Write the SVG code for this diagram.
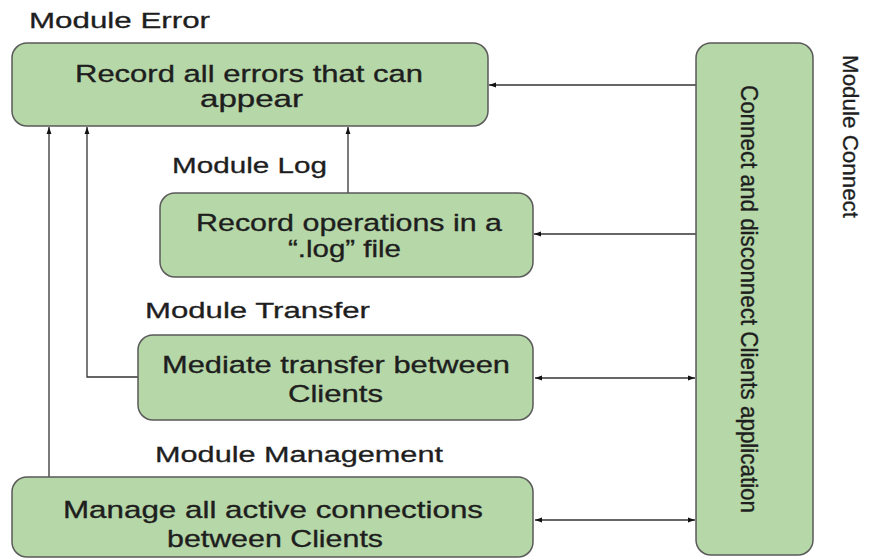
<svg xmlns="http://www.w3.org/2000/svg" width="871" height="559" viewBox="0 0 871 559">
<defs>
<style>
.box{fill:#b6d7a8;stroke:#5a5a5a;stroke-width:1.5}
.t{font-family:"Liberation Sans",Arial,sans-serif;fill:#1e1e1e;stroke:#1e1e1e;stroke-width:0.35;font-size:24.5px}
.lbl{font-family:"Liberation Sans",Arial,sans-serif;fill:#1e1e1e;stroke:#1e1e1e;stroke-width:0.3;font-size:22px}
.c{fill:none;stroke:#333;stroke-width:1.3}
</style>
<marker id="ah" viewBox="0 0 10 10" refX="10" refY="5" markerWidth="7" markerHeight="7" markerUnits="userSpaceOnUse" orient="auto-start-reverse">
<path d="M0,1.5 L10,5 L0,8.5 Z" fill="#111"/>
</marker>
</defs>
<rect width="871" height="559" fill="#fff"/>

<g id="connectors">
<path class="c" d="M696,85 H489" marker-end="url(#ah)"/>
<path class="c" d="M696,234 H534" marker-end="url(#ah)"/>
<path class="c" d="M535,378 H695" marker-start="url(#ah)" marker-end="url(#ah)"/>
<path class="c" d="M535,520 H695" marker-start="url(#ah)" marker-end="url(#ah)"/>
<path class="c" d="M348,193 V127" marker-end="url(#ah)"/>
<path class="c" d="M138,377 H87 V127" marker-end="url(#ah)"/>
<path class="c" d="M49,477 V127" marker-end="url(#ah)"/>
</g>

<g id="module-error">
<text class="lbl" x="29" y="28" textLength="181" lengthAdjust="spacingAndGlyphs">Module Error</text>
<rect class="box" x="12" y="43" width="476" height="83" rx="15"/>
<text class="t" x="75" y="82" textLength="348" lengthAdjust="spacingAndGlyphs">Record all errors that can</text>
<text class="t" x="200" y="107" textLength="103" lengthAdjust="spacingAndGlyphs">appear</text>
</g>

<g id="module-log">
<text class="lbl" x="172" y="173" textLength="155" lengthAdjust="spacingAndGlyphs">Module Log</text>
<rect class="box" x="160" y="193" width="373" height="84" rx="15"/>
<text class="t" x="196" y="231" textLength="306" lengthAdjust="spacingAndGlyphs">Record operations in a</text>
<text class="t" x="288" y="257" textLength="113" lengthAdjust="spacingAndGlyphs">“.log” file</text>
</g>

<g id="module-transfer">
<text class="lbl" x="145" y="318" textLength="225" lengthAdjust="spacingAndGlyphs">Module Transfer</text>
<rect class="box" x="138" y="335" width="395" height="85" rx="15"/>
<text class="t" x="162" y="373" textLength="348" lengthAdjust="spacingAndGlyphs">Mediate transfer between</text>
<text class="t" x="288" y="402" textLength="95" lengthAdjust="spacingAndGlyphs">Clients</text>
</g>

<g id="module-management">
<text class="lbl" x="155" y="462" textLength="288" lengthAdjust="spacingAndGlyphs">Module Management</text>
<rect class="box" x="12" y="477" width="521" height="80" rx="15"/>
<text class="t" x="63" y="518" textLength="420" lengthAdjust="spacingAndGlyphs">Manage all active connections</text>
<text class="t" x="167" y="547" textLength="216" lengthAdjust="spacingAndGlyphs">between Clients</text>
</g>

<g id="module-connect">
<rect class="box" x="696" y="43" width="117" height="512" rx="15"/>
<text class="t" transform="translate(741,85) rotate(90)" font-size="36" textLength="428" lengthAdjust="spacingAndGlyphs">Connect and disconnect Clients application</text>
<text class="lbl" transform="translate(843,55) rotate(90)" font-size="33" stroke-width="0.15" textLength="163" lengthAdjust="spacingAndGlyphs">Module Connect</text>
</g>
</svg>
